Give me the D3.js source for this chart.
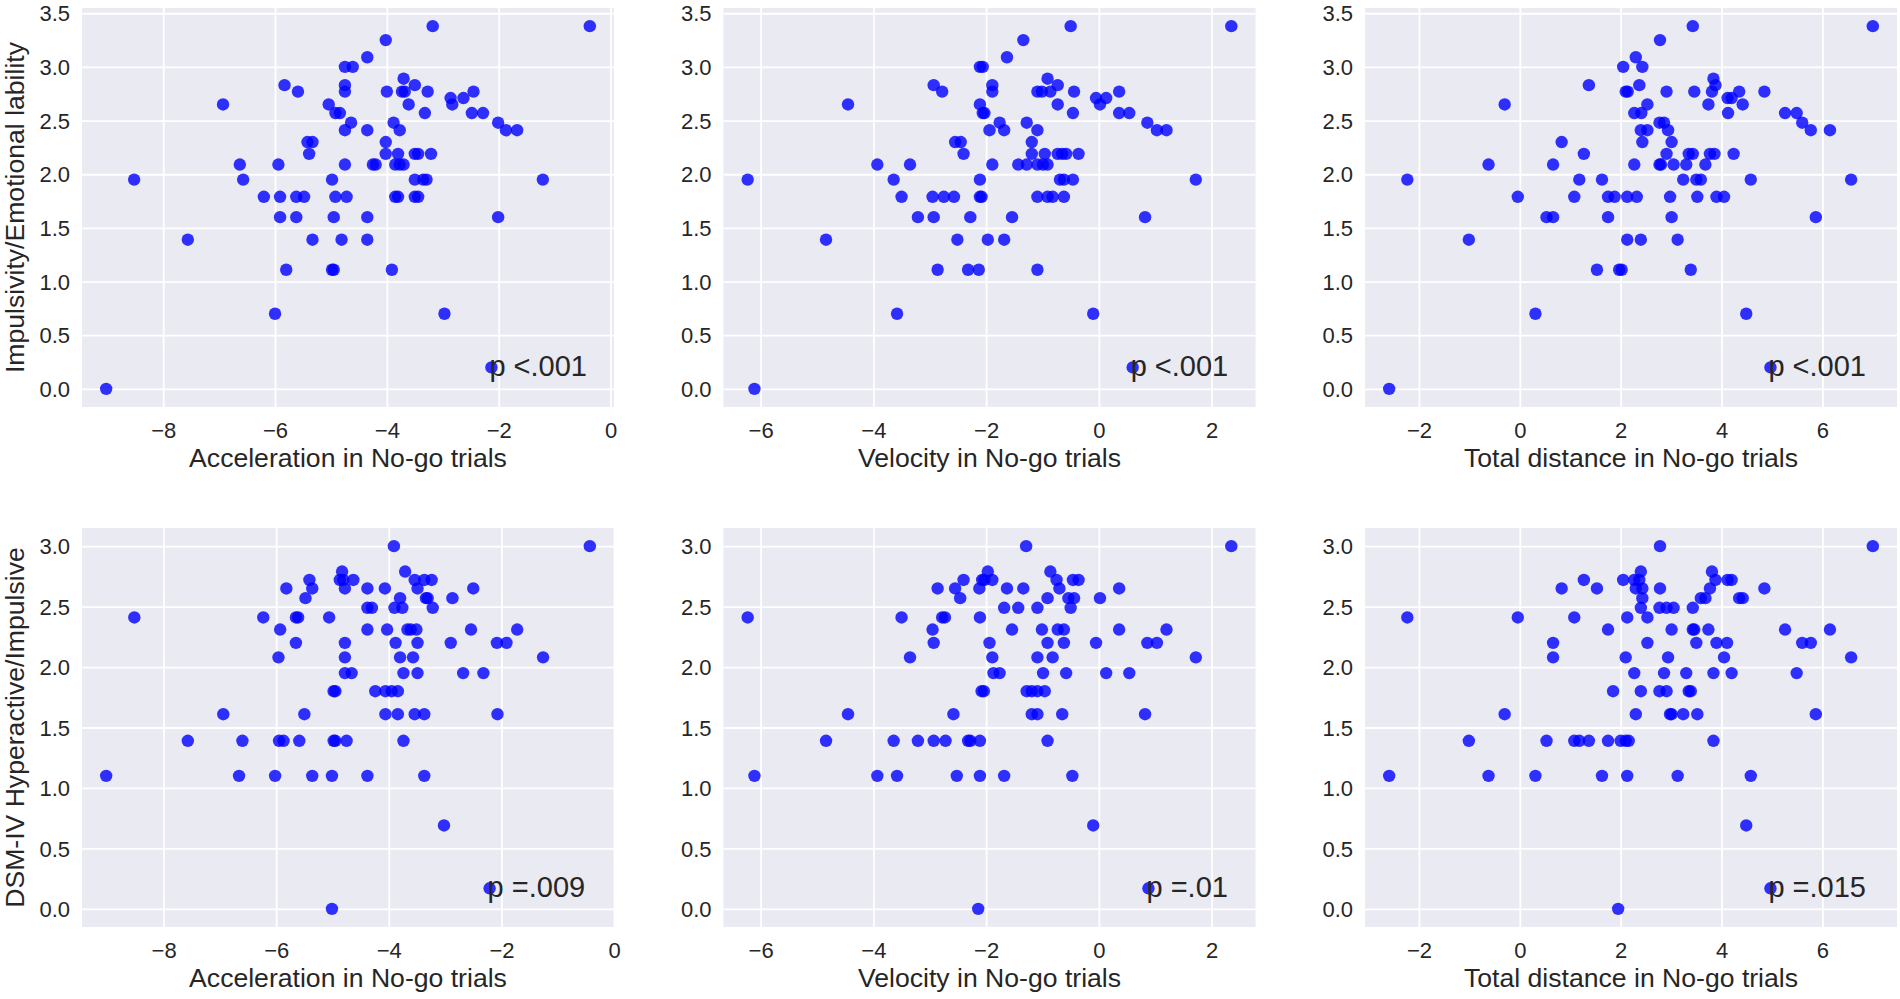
<!DOCTYPE html>
<html>
<head>
<meta charset="utf-8">
<script src="https://cdn.jsdelivr.net/npm/d3@7/dist/d3.min.js"></script>
<style>
  html, body { margin: 0; padding: 0; background: #ffffff; }
  svg { display: block; }
  text { font-family: "Liberation Sans", Arial, sans-serif; fill: #262626; }
</style>
</head>
<body>
<svg id="chart" width="1900" height="999"></svg>
<script>
// ---------------- data ----------------
const xLabels = ["Acceleration in No-go trials", "Velocity in No-go trials", "Total distance in No-go trials"];
const yLabels = ["Impulsivity/Emotional lability", "DSM-IV Hyperactive/Impulsive"];
const pTexts = [["p <.001", "p <.001", "p <.001"], ["p =.009", "p =.01", "p =.015"]];
// data position of each p-value annotation (same as the marker beneath it)
const pPosX = [[-2.13, 0.60, 4.97], [-2.21, 0.88, 4.97]];
const pPosY = [0.20, 0.17];
const xTicks = [[-8, -6, -4, -2, 0], [-6, -4, -2, 0, 2], [-2, 0, 2, 4, 6]];
const yTicks = [[0, 0.5, 1, 1.5, 2, 2.5, 3, 3.5], [0, 0.5, 1, 1.5, 2, 2.5, 3]];

const accelImp = [[-9.02,0.0],[-8.52,1.95],[-7.56,1.39],[-6.93,2.65],[-6.63,2.09],[-6.57,1.95],[-6.20,1.79],[-6.00,0.70],[-5.94,2.09],[-5.91,1.79],[-5.91,1.60],[-5.83,2.83],[-5.80,1.11],[-5.62,1.79],[-5.62,1.60],[-5.59,2.77],[-5.48,1.79],[-5.42,2.30],[-5.33,2.30],[-5.39,2.19],[-5.33,1.39],[-5.04,2.65],[-4.98,1.95],[-4.98,1.11],[-4.95,1.11],[-4.95,1.60],[-4.92,1.79],[-4.92,2.57],[-4.84,2.57],[-4.81,1.39],[-4.75,3.00],[-4.75,2.83],[-4.75,2.77],[-4.75,2.41],[-4.75,2.09],[-4.72,1.79],[-4.64,2.48],[-4.61,3.00],[-4.35,3.09],[-4.35,2.41],[-4.35,1.60],[-4.35,1.39],[-4.25,2.09],[-4.20,2.09],[-4.02,3.25],[-4.02,2.30],[-4.02,2.19],[-4.00,2.77],[-3.91,1.11],[-3.88,2.48],[-3.85,2.09],[-3.85,1.79],[-3.80,1.79],[-3.80,2.19],[-3.77,2.41],[-3.77,2.09],[-3.73,2.77],[-3.70,2.89],[-3.68,2.77],[-3.70,2.09],[-3.61,2.65],[-3.50,2.83],[-3.50,2.19],[-3.50,1.95],[-3.50,1.79],[-3.44,2.19],[-3.44,1.79],[-3.35,1.95],[-3.32,2.57],[-3.29,1.95],[-3.27,2.77],[-3.21,2.19],[-3.18,3.38],[-2.97,0.70],[-2.86,2.71],[-2.83,2.65],[-2.63,2.71],[-2.48,2.57],[-2.45,2.77],[-2.28,2.57],[-2.13,0.20],[-2.01,2.48],[-2.01,1.60],[-1.87,2.41],[-1.67,2.41],[-1.21,1.95],[-0.37,3.38]];

const velImp = [[-6.11,0.0],[-6.23,1.95],[-4.84,1.39],[-4.45,2.65],[-3.93,2.09],[-3.64,1.95],[-3.58,0.70],[-3.50,1.79],[-3.35,2.09],[-3.21,1.60],[-2.95,1.79],[-2.93,2.83],[-2.93,1.60],[-2.86,1.11],[-2.78,2.77],[-2.75,1.79],[-2.57,1.79],[-2.55,2.30],[-2.51,1.39],[-2.45,2.30],[-2.40,2.19],[-2.32,1.11],[-2.28,1.60],[-2.13,1.11],[-2.11,3.00],[-2.11,2.65],[-2.11,1.95],[-2.11,1.79],[-2.08,1.79],[-2.06,3.00],[-2.06,2.57],[-2.03,2.57],[-1.97,1.39],[-1.94,2.41],[-1.89,2.83],[-1.89,2.77],[-1.89,2.09],[-1.76,2.48],[-1.68,2.41],[-1.68,1.39],[-1.63,3.09],[-1.54,1.60],[-1.43,2.09],[-1.34,3.25],[-1.28,2.48],[-1.28,2.09],[-1.19,2.30],[-1.19,2.19],[-1.09,2.41],[-1.09,2.77],[-1.09,2.09],[-1.09,1.79],[-1.09,1.11],[-1.01,2.77],[-0.99,2.09],[-0.96,2.19],[-0.91,2.89],[-0.91,2.09],[-0.91,1.79],[-0.86,2.77],[-0.82,1.79],[-0.73,2.83],[-0.73,2.65],[-0.73,2.19],[-0.69,1.95],[-0.65,2.19],[-0.62,1.95],[-0.62,1.79],[-0.58,2.19],[-0.50,3.38],[-0.46,2.57],[-0.46,1.95],[-0.44,2.77],[-0.36,2.19],[-0.10,0.70],[-0.05,2.71],[0.02,2.65],[0.13,2.71],[0.36,2.77],[0.36,2.57],[0.54,2.57],[0.60,0.20],[0.82,1.60],[0.86,2.48],[1.03,2.41],[1.20,2.41],[1.72,1.95],[2.35,3.38]];

const distImp = [[-2.59,0.0],[-2.23,1.95],[-1.01,1.39],[-0.62,2.09],[-0.30,2.65],[-0.04,1.79],[0.31,0.70],[0.53,1.60],[0.66,1.60],[0.66,2.09],[0.83,2.30],[1.08,1.79],[1.18,1.95],[1.27,2.19],[1.37,2.83],[1.53,1.11],[1.63,1.95],[1.75,1.60],[1.75,1.79],[1.88,1.79],[1.97,1.11],[2.02,1.11],[2.05,3.00],[2.10,2.77],[2.14,2.77],[2.13,1.79],[2.13,1.39],[2.27,2.09],[2.27,2.57],[2.30,3.09],[2.32,1.79],[2.37,2.83],[2.40,2.41],[2.41,2.57],[2.43,2.30],[2.43,3.00],[2.40,1.39],[2.53,2.41],[2.53,2.65],[2.78,3.25],[2.77,2.48],[2.77,2.09],[2.80,2.09],[2.86,2.48],[2.91,2.77],[2.91,2.19],[2.94,2.41],[2.98,1.79],[3.01,2.30],[3.01,1.60],[3.05,2.09],[3.13,1.39],[3.24,1.95],[3.30,2.09],[3.35,2.19],[3.39,1.11],[3.43,3.38],[3.43,2.19],[3.46,2.77],[3.50,1.95],[3.52,1.79],[3.59,1.95],[3.68,2.09],[3.74,2.65],[3.77,2.19],[3.81,2.77],[3.84,2.89],[3.86,2.19],[3.88,2.83],[3.90,1.79],[4.05,1.79],[4.12,2.71],[4.13,2.57],[4.20,2.71],[4.24,2.19],[4.35,2.77],[4.42,2.65],[4.49,0.70],[4.58,1.95],[4.85,2.77],[4.97,0.20],[5.26,2.57],[5.49,2.57],[5.60,2.48],[5.77,2.41],[5.87,1.60],[6.15,2.41],[6.57,1.95],[7.00,3.38]];

const accelDsm = [[-9.02,1.10],[-8.52,2.41],[-7.57,1.39],[-6.94,1.61],[-6.66,1.10],[-6.60,1.39],[-6.23,2.41],[-6.02,1.10],[-5.96,2.08],[-5.93,2.31],[-5.95,1.39],[-5.87,1.39],[-5.82,2.65],[-5.65,2.41],[-5.61,2.41],[-5.65,2.20],[-5.59,1.39],[-5.50,1.61],[-5.48,2.57],[-5.41,2.72],[-5.36,2.65],[-5.36,1.10],[-5.06,2.41],[-5.01,1.10],[-5.01,0.0],[-4.98,1.39],[-4.95,1.39],[-4.95,1.80],[-4.98,1.80],[-4.87,2.72],[-4.83,2.79],[-4.81,2.72],[-4.78,2.65],[-4.78,2.20],[-4.78,2.08],[-4.78,1.95],[-4.75,1.39],[-4.66,1.95],[-4.63,2.72],[-4.38,2.65],[-4.38,2.49],[-4.38,2.31],[-4.38,1.10],[-4.30,2.49],[-4.24,1.80],[-4.07,2.65],[-4.06,1.80],[-4.06,1.61],[-4.03,2.31],[-3.91,3.00],[-3.90,2.49],[-3.95,1.80],[-3.88,2.20],[-3.84,1.80],[-3.84,1.61],[-3.80,2.57],[-3.80,2.08],[-3.76,2.49],[-3.74,1.95],[-3.74,1.39],[-3.71,2.79],[-3.67,2.31],[-3.61,2.31],[-3.57,2.08],[-3.54,2.72],[-3.54,1.61],[-3.51,2.31],[-3.49,2.65],[-3.49,2.20],[-3.49,1.95],[-3.37,2.72],[-3.37,1.61],[-3.37,1.10],[-3.34,2.57],[-3.31,2.57],[-3.24,2.72],[-3.22,2.49],[-3.02,0.69],[-2.90,2.20],[-2.87,2.57],[-2.68,1.95],[-2.54,2.31],[-2.50,2.65],[-2.32,1.95],[-2.21,0.17],[-2.08,2.20],[-2.07,1.61],[-1.91,2.20],[-1.72,2.31],[-1.26,2.08],[-0.43,3.00]];

const velDsm = [[-6.23,2.41],[-6.11,1.10],[-4.84,1.39],[-4.45,1.61],[-3.93,1.10],[-3.64,1.39],[-3.58,1.10],[-3.50,2.41],[-3.35,2.08],[-3.21,1.39],[-2.95,2.31],[-2.93,2.20],[-2.93,1.39],[-2.86,2.65],[-2.78,2.41],[-2.73,2.41],[-2.72,1.39],[-2.58,1.61],[-2.55,2.65],[-2.52,1.10],[-2.46,2.57],[-2.40,2.72],[-2.32,1.39],[-2.28,1.39],[-2.12,2.65],[-2.11,2.41],[-2.11,1.39],[-2.11,1.10],[-2.14,0.0],[-2.08,1.80],[-2.04,1.80],[-2.07,2.72],[-2.03,2.72],[-1.97,2.79],[-1.94,2.20],[-1.89,2.72],[-1.89,2.08],[-1.87,1.95],[-1.76,1.95],[-1.68,2.49],[-1.68,1.10],[-1.63,2.65],[-1.54,2.31],[-1.43,2.49],[-1.34,2.65],[-1.29,3.00],[-1.28,1.80],[-1.19,1.80],[-1.19,1.61],[-1.09,2.49],[-1.09,2.08],[-1.09,1.80],[-1.09,1.61],[-1.01,2.31],[-0.99,1.95],[-0.96,1.80],[-0.91,2.57],[-0.91,2.20],[-0.91,1.39],[-0.86,2.79],[-0.82,2.08],[-0.75,2.72],[-0.73,2.31],[-0.70,2.65],[-0.65,1.61],[-0.62,2.31],[-0.62,2.20],[-0.58,1.95],[-0.54,2.57],[-0.50,2.49],[-0.46,2.72],[-0.44,2.57],[-0.47,1.10],[-0.36,2.72],[-0.10,0.69],[-0.05,2.20],[0.02,2.57],[0.13,1.95],[0.36,2.65],[0.36,2.31],[0.54,1.95],[0.82,1.61],[0.86,2.20],[0.88,0.17],[1.03,2.20],[1.20,2.31],[1.72,2.08],[2.35,3.00]];

const distDsm = [[-2.59,1.10],[-2.23,2.41],[-1.01,1.39],[-0.62,1.10],[-0.30,1.61],[-0.04,2.41],[0.31,1.10],[0.53,1.39],[0.66,2.20],[0.66,2.08],[0.83,2.65],[1.08,2.41],[1.08,1.39],[1.18,1.39],[1.27,2.72],[1.37,1.39],[1.53,2.65],[1.63,1.10],[1.75,2.31],[1.75,1.39],[1.85,1.80],[1.95,0.0],[2.00,1.39],[2.05,2.72],[2.10,1.39],[2.10,2.08],[2.13,2.41],[2.13,1.10],[2.16,1.39],[2.27,1.95],[2.27,2.72],[2.30,2.65],[2.30,1.61],[2.37,2.72],[2.40,2.79],[2.40,2.49],[2.40,1.80],[2.43,2.57],[2.43,2.65],[2.53,2.41],[2.53,2.20],[2.78,3.00],[2.78,2.65],[2.77,2.49],[2.77,1.80],[2.86,1.95],[2.91,2.49],[2.91,1.80],[2.94,2.08],[2.98,1.61],[3.01,2.31],[3.01,1.61],[3.05,2.49],[3.13,1.10],[3.24,1.61],[3.30,1.95],[3.35,1.80],[3.39,1.80],[3.43,2.49],[3.43,2.31],[3.46,2.31],[3.50,2.20],[3.52,1.61],[3.59,2.57],[3.68,2.57],[3.74,2.31],[3.77,2.65],[3.81,2.79],[3.84,1.95],[3.84,1.39],[3.88,2.72],[3.90,2.20],[4.05,2.08],[4.11,2.20],[4.12,2.72],[4.20,2.72],[4.20,1.95],[4.35,2.57],[4.42,2.57],[4.49,0.69],[4.58,1.10],[4.85,2.65],[4.97,0.17],[5.26,2.31],[5.49,1.95],[5.60,2.20],[5.77,2.20],[5.87,1.61],[6.15,2.31],[6.57,2.08],[7.00,3.00]];

const panelData = [[accelImp, velImp, distImp], [accelDsm, velDsm, distDsm]];

// ---------------- layout ----------------
const svg = d3.select("#chart");
const plotW = 532, plotH = 399;
const lefts = [82, 723.5, 1365];
const tops = [8, 528];
const bg = "#EAEAF2";

function padded(ext) {
  const p = (ext[1] - ext[0]) * 0.05;
  return [ext[0] - p, ext[1] + p];
}

for (let r = 0; r < 2; r++) {
  for (let c = 0; c < 3; c++) {
    const data = panelData[r][c];
    const x = d3.scaleLinear().domain(padded(d3.extent(data, d => d[0]))).range([0, plotW]);
    const y = d3.scaleLinear().domain(padded(d3.extent(data, d => d[1]))).range([plotH, 0]);
    const g = svg.append("g").attr("transform", `translate(${lefts[c]},${tops[r]})`);

    g.append("rect").attr("width", plotW).attr("height", plotH).attr("fill", bg);

    const gx = g.append("g").attr("transform", `translate(0,${plotH})`)
      .call(d3.axisBottom(x).tickValues(xTicks[c]).tickSize(plotH).tickFormat(d3.format("d")).tickPadding(0));
    gx.select(".domain").remove();
    gx.selectAll(".tick line").attr("stroke", "#ffffff").attr("stroke-width", 1.8).attr("y2", -plotH);
    gx.selectAll(".tick text").attr("y", 31).attr("dy", null).attr("font-size", 22).attr("fill", "#262626");

    const gy = g.append("g")
      .call(d3.axisLeft(y).tickValues(yTicks[r]).tickFormat(d3.format(".1f")).tickSize(0).tickPadding(12));
    gy.select(".domain").remove();
    gy.selectAll(".tick line").attr("stroke", "#ffffff").attr("stroke-width", 1.8).attr("x1", 0).attr("x2", plotW);
    gy.selectAll(".tick text").attr("font-size", 22).attr("fill", "#262626").attr("dy", "0.35em");

    g.append("g").selectAll("circle").data(data).join("circle")
      .attr("cx", d => x(d[0])).attr("cy", d => y(d[1])).attr("r", 6.2)
      .attr("fill", "#0000ff").attr("fill-opacity", 0.8);

    g.append("text").attr("x", x(pPosX[r][c]) - 2).attr("y", y(pPosY[r]))
      .attr("dy", "0.3em").attr("font-size", 29).text(pTexts[r][c]);

    g.append("text").attr("x", plotW / 2).attr("y", plotH + 60)
      .attr("text-anchor", "middle").attr("font-size", 26.6).text(xLabels[c]);

    if (c === 0) {
      g.append("text").attr("transform", `translate(${24 - lefts[0]},${plotH / 2}) rotate(-90)`)
        .attr("text-anchor", "middle").attr("font-size", 26.6).text(yLabels[r]);
    }
  }
}
</script>
</body>
</html>
